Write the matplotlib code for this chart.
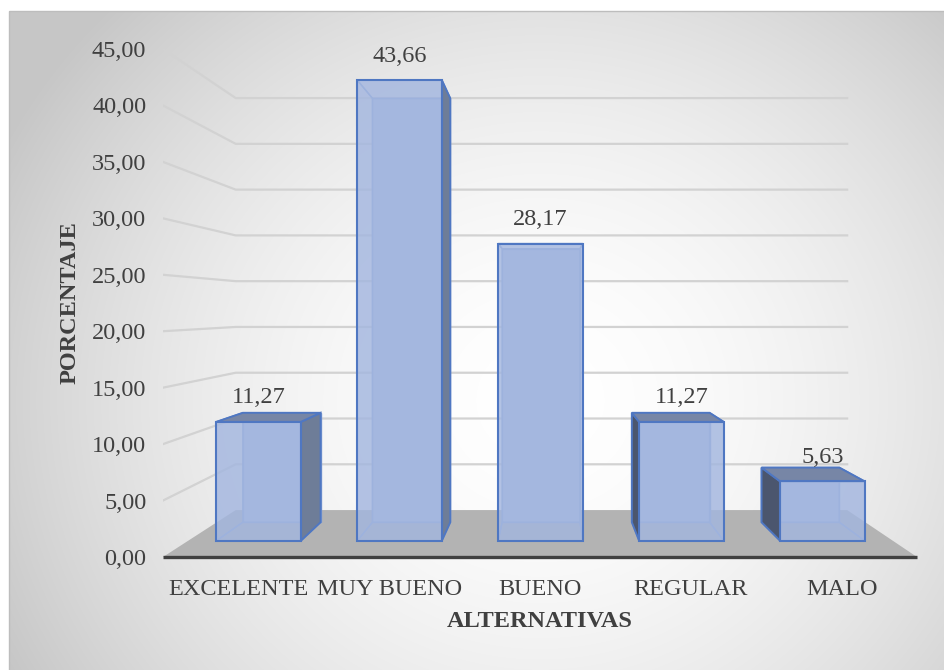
import numpy as np
import matplotlib
matplotlib.use("Agg")
import matplotlib.pyplot as plt
from matplotlib.patches import Polygon, Rectangle

categorias = ["EXCELENTE", "MUY BUENO", "BUENO", "REGULAR", "MALO"]
porcentajes = [11.27, 43.66, 28.17, 11.27, 5.63]
ticks_y = [0, 5, 10, 15, 20, 25, 30, 35, 40, 45]

# perspective settings (front plane in data units, depth z from 0 to 1)
VX, VY = 2.05, 22.0
K = 0.189
Z0, Z1 = 0.344, 0.741
HALF = 0.30

TXT = "#404040"
FS = 17.5
plt.rcParams["font.family"] = ["Liberation Serif", "DejaVu Serif"]


def proj(x, y, z):
    s = 1 - K * z
    return VX + (x - VX) * s, VY + (y - VY) * s


def coma(v):
    return f"{v:.2f}".replace(".", ",")


W, H = 944, 670
fig = plt.figure(figsize=(W / 100, H / 100), dpi=100)

# radial gradient background
bg = fig.add_axes([0, 0, 1, 1])
bg.set_xlim(0, W)
bg.set_ylim(H, 0)
bg.axis("off")
yy, xx = np.mgrid[0:H, 0:W]
t = np.sqrt(((xx - 540) / 600.0) ** 2 + ((yy - 400) / 560.0) ** 2)
t = np.clip(t, 0, 1) ** 1.8
shade = 1.0 - t * (1.0 - 0.78)
img = np.dstack([shade, shade, shade])
img[:11, :] = 1.0
img[:, :9] = 1.0
bg.imshow(img, extent=(0, W, H, 0), interpolation="bilinear")
bg.add_patch(Rectangle((9, 11), W, H, fill=False, ec="#bdbdbd", lw=1))

ax = fig.add_axes([163 / W, 113 / H, 754 / W, 508 / H])
ax.patch.set_alpha(0)
ax.set_xlim(-0.5, 4.5)
ax.set_ylim(0, 45)
for sp in ax.spines.values():
    sp.set_visible(False)

# walls gridlines
for v in ticks_y[1:]:
    a, b, c = proj(-0.5, v, 0), proj(-0.5, v, 1), proj(4.5, v, 1)
    ax.plot([a[0], b[0], c[0]], [a[1], b[1], c[1]], color="#d2d2d2", lw=1.6,
            solid_joinstyle="miter", zorder=1)

# floor
floor = [proj(-0.5, 0, 0), proj(4.5, 0, 0), proj(4.5, 0, 1), proj(-0.5, 0, 1)]
ax.add_patch(Polygon(floor, closed=True, fc="#b3b3b3", ec="none", zorder=2))

blue_edge = "#4f77c2"
inner_edge = "#86a1d6"
for i, v in enumerate(porcentajes):
    xl, xr = i - HALF, i + HALF

    def face(pts):
        return [proj(*p) for p in pts]

    back = face([(xl, 0, Z1), (xr, 0, Z1), (xr, v, Z1), (xl, v, Z1)])
    left = face([(xl, 0, Z0), (xl, 0, Z1), (xl, v, Z1), (xl, v, Z0)])
    right = face([(xr, 0, Z0), (xr, 0, Z1), (xr, v, Z1), (xr, v, Z0)])
    top = face([(xl, v, Z0), (xr, v, Z0), (xr, v, Z1), (xl, v, Z1)])
    bottom = face([(xl, 0, Z0), (xr, 0, Z0), (xr, 0, Z1), (xl, 0, Z1)])
    front = face([(xl, 0, Z0), (xr, 0, Z0), (xr, v, Z0), (xl, v, Z0)])

    # hidden faces, seen through the translucent front
    ax.add_patch(Polygon(back, fc="#abbde2", ec=inner_edge, lw=1.0, zorder=3))
    for f in (bottom, left, right, top):
        ax.add_patch(Polygon(f, fill=False, ec=inner_edge, lw=1.0, zorder=3))

    # visible sides
    if xr < VX:
        ax.add_patch(Polygon(right, fc="#6e7d98", ec=blue_edge, lw=1.4, zorder=4))
    if xl > VX:
        ax.add_patch(Polygon(left, fc="#4b566e", ec=blue_edge, lw=1.4, zorder=4))
    if v < VY:
        ax.add_patch(Polygon(top, fc="#7786a6", ec=blue_edge, lw=1.4, zorder=4))

    ax.add_patch(Polygon(front, fc="#a3b6df", alpha=0.82, ec="none", zorder=5))
    ax.add_patch(Polygon(front, fill=False, ec=blue_edge, lw=1.5, zorder=6))

    lx, ly = proj(i, v, Z0)
    ax.annotate(coma(v), (lx, ly), xytext=(0, 24), textcoords="offset pixels",
                ha="center", va="center", fontsize=FS, color=TXT, zorder=7)

# front edge of the floor
ax.plot([-0.5, 4.5], [0, 0], color="#404040", lw=2.4, solid_capstyle="butt",
        zorder=6, clip_on=False)

ax.set_yticks(ticks_y)
ax.set_yticklabels([coma(v) for v in ticks_y])
ax.set_xticks(range(len(categorias)))
ax.set_xticklabels(categorias)
ax.tick_params(axis="both", length=0, labelsize=FS, labelcolor=TXT)
ax.tick_params(axis="y", pad=12)
ax.tick_params(axis="x", pad=16)

ax.set_xlabel("ALTERNATIVAS", fontsize=FS, fontweight="bold", color=TXT,
              labelpad=8)
ax.set_ylabel("PORCENTAJE", fontsize=FS, fontweight="bold", color=TXT,
              labelpad=8)

fig.savefig("out.png", dpi=100)
